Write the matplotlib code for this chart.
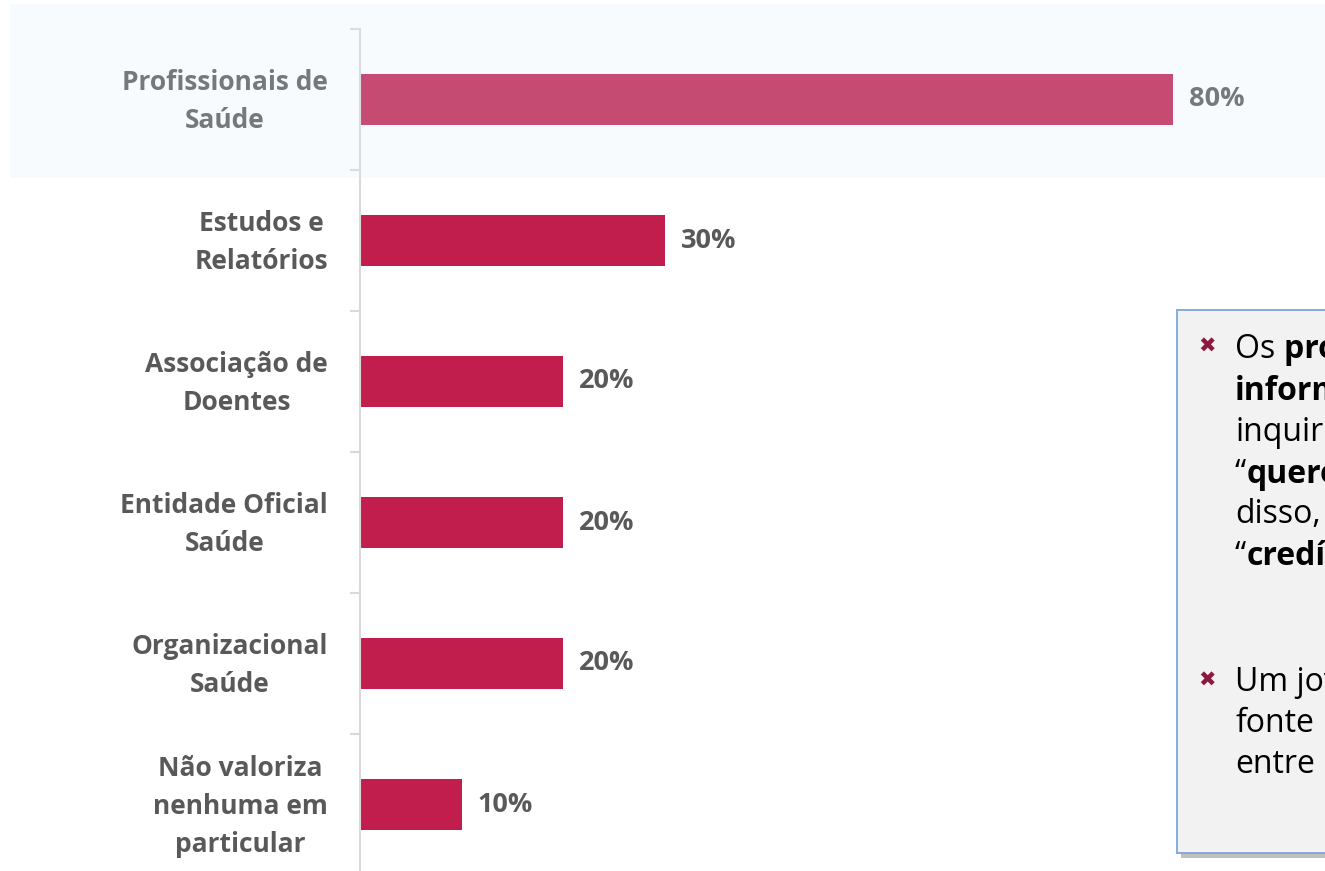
import matplotlib
matplotlib.use("Agg")
import matplotlib.pyplot as plt
from matplotlib.patches import Rectangle

# fontes de informação valorizadas
categorias = [
    "Profissionais de\nSaúde",
    "Estudos e\nRelatórios",
    "Associação de\nDoentes",
    "Entidade Oficial\nSaúde",
    "Organizacional\nSaúde",
    "Não valoriza\nnenhuma em\nparticular",
]
valores = [80, 30, 20, 20, 20, 10]

# texto da caixa lateral: cada linha é uma lista de (pedaço, negrito)
notas = [
    [("Os ", False), ("profissionais de saúde", True)],
    [("informação", True)],
    [("inquiridos", False)],
    [("“", False), ("querem", True)],
    [("disso,", False)],
    [("“", False), ("credíveis", True)],
    None,
    [("Um jovem", False)],
    [("fonte", False)],
    [("entre", False)],
]

W, H = 1325, 871
fig = plt.figure(figsize=(W / 100, H / 100), dpi=100)
fig.patch.set_facecolor("white")

ax = fig.add_axes([360 / W, (H - 875) / H, (W - 360) / W, 846 / H])
ax.set_facecolor("none")

y = list(range(len(categorias)))
ax.barh(y, valores, height=0.36, color="#C11E4E", zorder=2)
for i, v in enumerate(valores):
    ax.text(v + 1.6, i, f"{v}%", va="center", ha="left", fontsize=19.5,
            fontweight="bold", color="#595959", family="Open Sans")

ax.set_xlim(0, 95)
ax.set_ylim(len(categorias) - 0.5, -0.5)

# separadores entre categorias como ticks
ax.set_yticks([i - 0.5 for i in range(len(categorias) + 1)])
ax.set_yticklabels([])
ax.tick_params(axis="y", which="major", length=7, width=1.5, color="#D9D9D9")
ax.set_xticks([])
for s in ["top", "right", "bottom"]:
    ax.spines[s].set_visible(False)
ax.spines["left"].set_color("#D9D9D9")
ax.spines["left"].set_linewidth(1.5)

# rótulos das categorias, centrados na barra
for i, cat in enumerate(categorias):
    ax.annotate(cat, xy=(0, i), xycoords=("axes fraction", "data"),
                xytext=(-32, -2), textcoords="offset pixels", ha="right",
                va="center", multialignment="center", linespacing=1.5,
                fontsize=19, fontweight="bold", color="#595959",
                family="Open Sans", annotation_clip=False)

# realce da primeira linha
fig.patches.append(Rectangle((10 / W, (H - 178) / H), (W - 10) / W, 174 / H,
                             transform=fig.transFigure, facecolor="#DCEFFB",
                             alpha=0.22, edgecolor="none", zorder=3))

# caixa de comentários com sombra
bx0, by0, by1 = 1177, 310, 853
fig.patches.append(Rectangle(((bx0 + 4) / W, (H - by1 - 5) / H), (W - bx0) / W,
                             (by1 - by0) / H, transform=fig.transFigure,
                             facecolor="#BFBFBF", edgecolor="none", zorder=4))
fig.patches.append(Rectangle((bx0 / W, (H - by1) / H), (W - bx0 + 5) / W,
                             (by1 - by0) / H, transform=fig.transFigure,
                             facecolor="#F2F2F2", edgecolor="#7EA6D6",
                             linewidth=1.3, zorder=5))

renderer = fig.canvas.get_renderer()
linhas_y = [350, 392, 433, 475, 515, 557, None, 683, 724, 765]
for linha, ly in zip(notas, linhas_y):
    if linha is None:
        continue
    x = 1235
    for txt, bold in linha:
        t = fig.text(x / W, (H - ly - 8) / H, txt, fontsize=23, color="black",
                     family="Open Sans", fontweight="bold" if bold else "normal",
                     va="baseline", ha="left", zorder=6)
        # o pedaço seguinte começa onde este termina
        x = t.get_window_extent(renderer).x1

marcadores_y = [347, 681]
for my in marcadores_y:
    fig.text(1207 / W, (H - my) / H, "✖", fontsize=15, color="#8B1A3F",
             family="DejaVu Sans", ha="center", va="center", zorder=6)

fig.savefig("out.png", dpi=100)
